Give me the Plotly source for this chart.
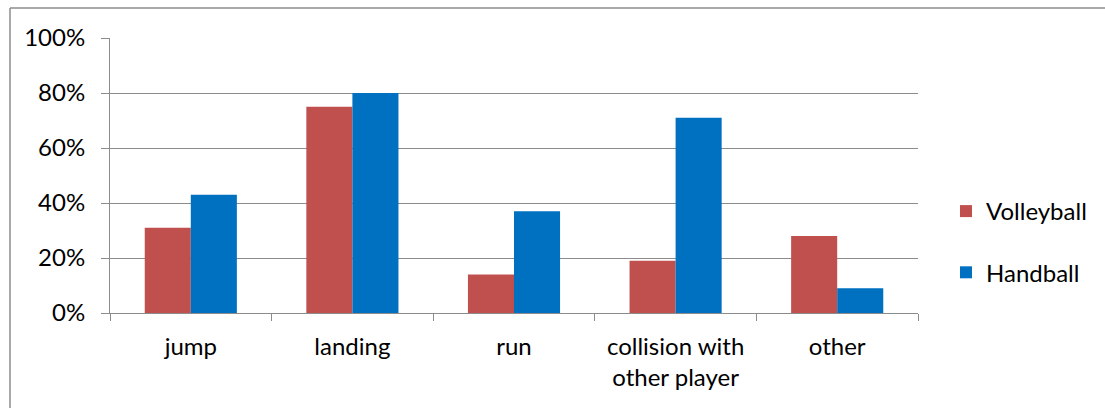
import plotly.graph_objects as go

categories = ["jump", "landing", "run", "collision with<br>other player", "other"]
volleyball = [0.31, 0.75, 0.14, 0.19, 0.28]
handball = [0.43, 0.80, 0.37, 0.71, 0.09]

W, H = 1105, 408
ML, MR, MT, MB = 110, 187, 38, 95
pw, ph = W - ML - MR, H - MT - MB

def px_x(x):
    return (x - ML) / pw

def px_y(y):
    return (H - MB - y) / ph

font = dict(family="Lato, Open Sans, sans-serif", size=24, color="#000000")
grid = "#8c8c8c"

fig = go.Figure()
fig.add_trace(go.Bar(name="Volleyball", x=categories, y=volleyball,
                     marker=dict(color="#C0504D", line=dict(width=0)),
                     legendgroup="v"))
fig.add_trace(go.Bar(name="Handball", x=categories, y=handball,
                     marker=dict(color="#0070C0", line=dict(width=0)),
                     legendgroup="h"))

fig.update_layout(
    width=W, height=H,
    margin=dict(l=ML, r=MR, t=MT, b=MB, pad=0),
    paper_bgcolor="white", plot_bgcolor="white",
    font=font,
    barmode="group", bargap=0.43, bargroupgap=0,
    legend=dict(x=px_x(946), xanchor="left", y=px_y(242), yanchor="middle",
                tracegroupgap=27, font=dict(size=24), itemwidth=30,
                bgcolor="rgba(0,0,0,0)"),
    showlegend=True,
    xaxis=dict(showline=True, linecolor=grid, linewidth=1,
               ticks="outside", ticklen=7, tickcolor=grid,
               tickson="boundaries", showgrid=False, tickfont=font,
               ticklabelstandoff=12, mirror=False),
    yaxis=dict(range=[0, 1], tickvals=[0, 0.2, 0.4, 0.6, 0.8, 1.0],
               ticktext=["0%", "20%", "40%", "60%", "80%", "100%"],
               showline=True, linecolor=grid, linewidth=1,
               ticks="outside", ticklen=8, tickcolor=grid,
               showgrid=True, gridcolor=grid, gridwidth=1,
               tickfont=font, ticklabelstandoff=11, zeroline=False),
    shapes=[
        dict(type="line", xref="paper", yref="paper",
             x0=px_x(10), x1=px_x(1110), y0=px_y(8), y1=px_y(8),
             line=dict(color="#8c8c8c", width=1.5)),
        dict(type="line", xref="paper", yref="paper",
             x0=px_x(10), x1=px_x(10), y0=px_y(8), y1=px_y(412),
             line=dict(color="#8c8c8c", width=1.5)),
    ],
)

fig.write_html("out.html")
